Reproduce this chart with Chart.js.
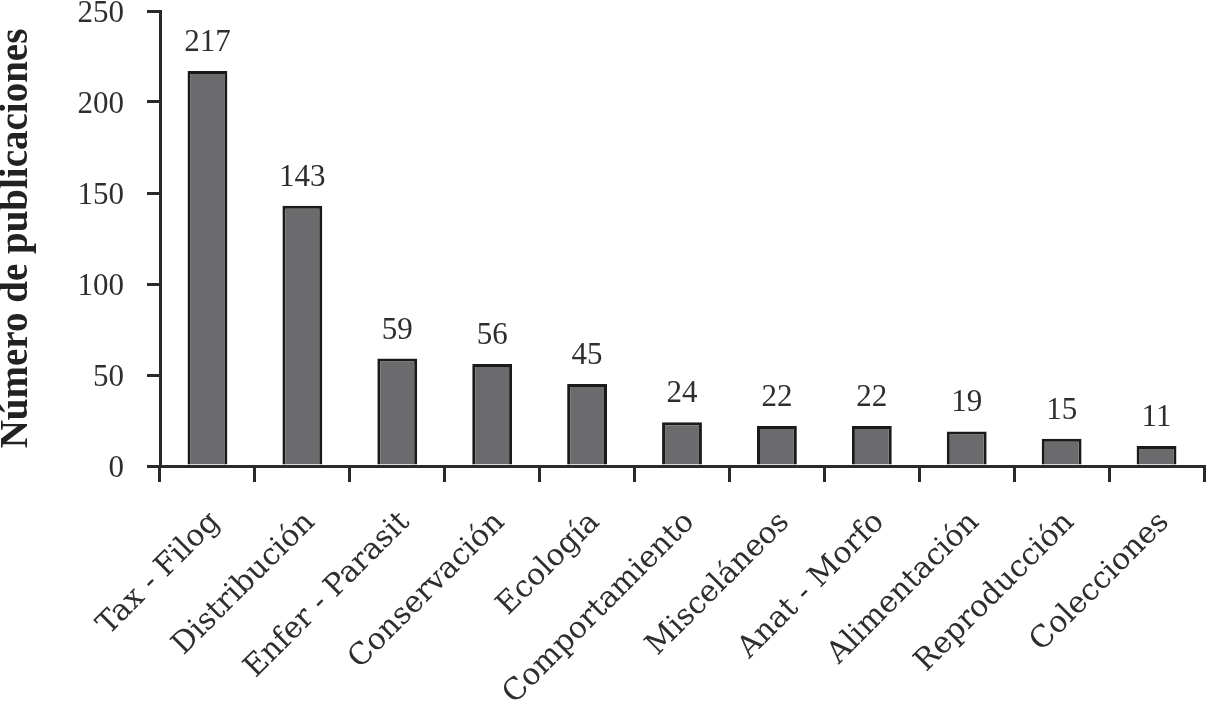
<!DOCTYPE html>
<html>
<head>
<meta charset="utf-8">
<script src="https://cdn.jsdelivr.net/npm/chart.js@4/dist/chart.umd.min.js"></script>
<style>
  body { margin: 0; background: #fff; }
  #wrap { width: 1206px; height: 701px; }
</style>
</head>
<body>
<div id="wrap"><canvas id="myChart"></canvas></div>
<script>
// data
const categories = ["Tax - Filog", "Distribución", "Enfer - Parasit", "Conservación", "Ecología",
  "Comportamiento", "Misceláneos", "Anat - Morfo", "Alimentación", "Reproducción", "Colecciones"];
const publications = [217, 143, 59, 56, 45, 24, 22, 22, 19, 15, 11];
const yTicks = [0, 50, 100, 150, 200, 250];
const yTitle = "Número de publicaciones";

const axisColor = "#2a2a2a";
const textColor = "#2e2e2e";

// value labels above each bar
const barValues = {
  id: "barValues",
  afterDatasetsDraw(chart) {
    const ctx = chart.ctx;
    const meta = chart.getDatasetMeta(0);
    ctx.save();
    ctx.font = "31px 'Liberation Serif'";
    ctx.fillStyle = textColor;
    ctx.textAlign = "center";
    ctx.textBaseline = "alphabetic";
    meta.data.forEach((bar, i) => {
      ctx.fillText(publications[i], bar.x, bar.y - 20);
    });
    ctx.restore();
  }
};

const ctx1 = document.getElementById("myChart").getContext("2d");
const myChart = new Chart(ctx1, {
  type: "bar",
  data: {
    labels: categories,
    datasets: [{
      data: publications,
      backgroundColor: "#6b6b6d",
      borderColor: "#1a1a1a",
      borderWidth: 3,
      borderSkipped: "bottom",
      barPercentage: 0.42,
      categoryPercentage: 1
    }]
  },
  options: {
    responsive: true,
    maintainAspectRatio: false,
    devicePixelRatio: 1,
    animation: false,
    layout: { padding: { left: 0, right: 2, top: 11, bottom: 0 } },
    plugins: {
      legend: { display: false },
      tooltip: { enabled: false }
    },
    scales: {
      x: {
        grid: {
          offset: true,
          drawOnChartArea: false,
          drawTicks: true,
          tickLength: 16,
          color: axisColor,
          lineWidth: 3
        },
        border: { display: true, color: axisColor, width: 3 },
        ticks: {
          minRotation: 45,
          maxRotation: 45,
          autoSkip: false,
          padding: 23,
          labelOffset: 8,
          color: textColor,
          font: { family: "'DejaVu Serif'", size: 30 }
        },
        afterFit(scale) {
          scale.height = 701 - 466;
          scale.paddingLeft = 0;
          scale.paddingRight = 0;
        }
      },
      y: {
        min: yTicks[0],
        max: yTicks[yTicks.length - 1],
        afterBuildTicks(scale) {
          scale.ticks = yTicks.map(v => ({ value: v }));
        },
        grid: {
          drawOnChartArea: false,
          drawTicks: true,
          tickLength: 13,
          color: axisColor,
          lineWidth: 3
        },
        border: { display: true, color: axisColor, width: 3 },
        ticks: {
          padding: 23,
          labelOffset: 3,
          color: textColor,
          font: { family: "'Liberation Serif'", size: 31 }
        },
        title: {
          display: true,
          text: yTitle,
          color: "#222",
          padding: { top: -3, bottom: 0 },
          font: { family: "'Liberation Serif'", size: 39, weight: "bold", lineHeight: 1 }
        },
        afterFit(scale) {
          scale.width = 160;
          scale.paddingTop = 0;
          scale.paddingBottom = 0;
        }
      }
    }
  },
  plugins: [barValues]
});
</script>
</body>
</html>
